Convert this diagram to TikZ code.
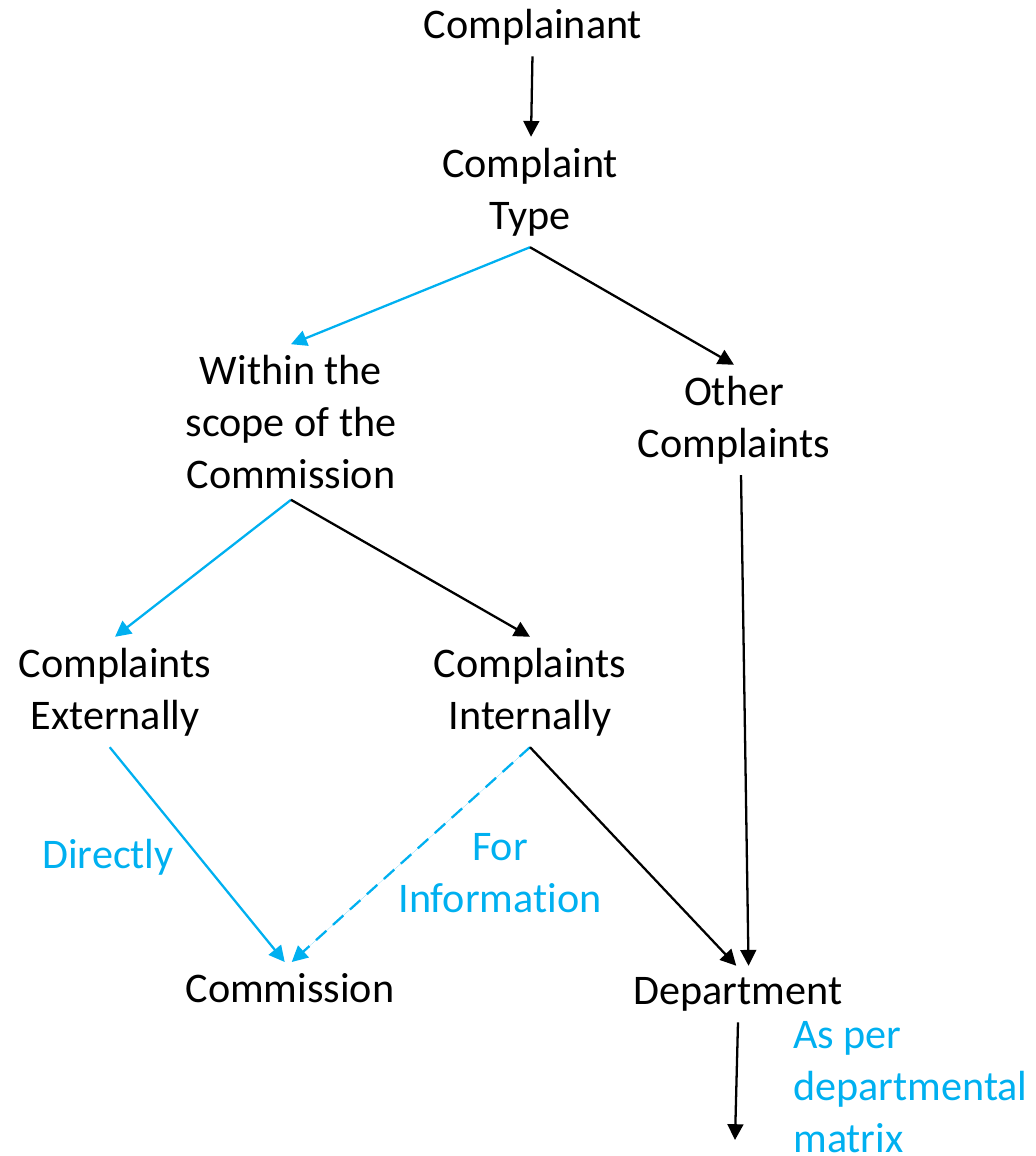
\documentclass[tikz,border=0pt]{standalone}
\usepackage{fontspec}
\setmainfont{Carlito}[Ligatures=NoCommon]
\usepackage{xcolor}
\usepackage{tikz}
\usetikzlibrary{arrows.meta, positioning}
\definecolor{lineblue}{HTML}{00B0F0}

\begin{document}
\begin{tikzpicture}[
    x=0.02cm,
    y=-0.02cm,
    item node/.style={align=center,inner sep=0.22cm,font=\fontsize{24}{29.4}\selectfont},
    label node/.style={align=center,inner sep=0pt,text=lineblue,font=\fontsize{24}{29.4}\selectfont},
    arrow/.style={-{Triangle[length=9pt,width=9pt]},line width=1.3pt},
    blue arrow/.style={arrow,draw=lineblue,fill=lineblue}
]
\useasboundingbox (0,0) rectangle (1035,1156);

\node[item node] (complainant) at (533,27) {Complainant};
\node[item node] (ctype) at (530,192) {Complaint\\Type};
\node[item node] (within) at (291,422) {Within the\\scope of the\\Commission};
\node[item node] (other) at (734,420) {Other\\Complaints};
\node[item node] (external) at (115,692) {Complaints\\Externally};
\node[item node] (internal) at (530,692) {Complaints\\Internally};
\node[item node] (commission) at (290,988) {Commission};
\node[item node] (dept) at (738,994) {Department};
\coordinate (matrixend) at (735,1140);

\node[label node] (directly) at (108,857) {Directly};
\node[label node] (forinfo) at (500,873) {For\\Information};
\node[label node,align=left,anchor=west] (asper) at (793,1087) {As per\\departmental\\matrix};

\draw[arrow] (complainant) -- (ctype);
\draw[blue arrow] (ctype.south) -- (within.north);
\draw[arrow] (ctype.south) -- (other.north);
\draw[blue arrow] (within.south) -- (external.north);
\draw[arrow] (within.south) -- (internal.north);
\draw[arrow] ([xshift=4]other.south) -- ([xshift=6]dept.north);
\draw[blue arrow] ([xshift=-3]external.south) -- ([xshift=-3]commission.north);
\draw[blue arrow,dashed,dash pattern=on 8pt off 5pt] (internal.south) -- ([xshift=1]commission.north);
\draw[arrow] (internal.south) -- ([xshift=-1]dept.north);
\draw[arrow] (dept.south) -- (matrixend);

\end{tikzpicture}
\end{document}
